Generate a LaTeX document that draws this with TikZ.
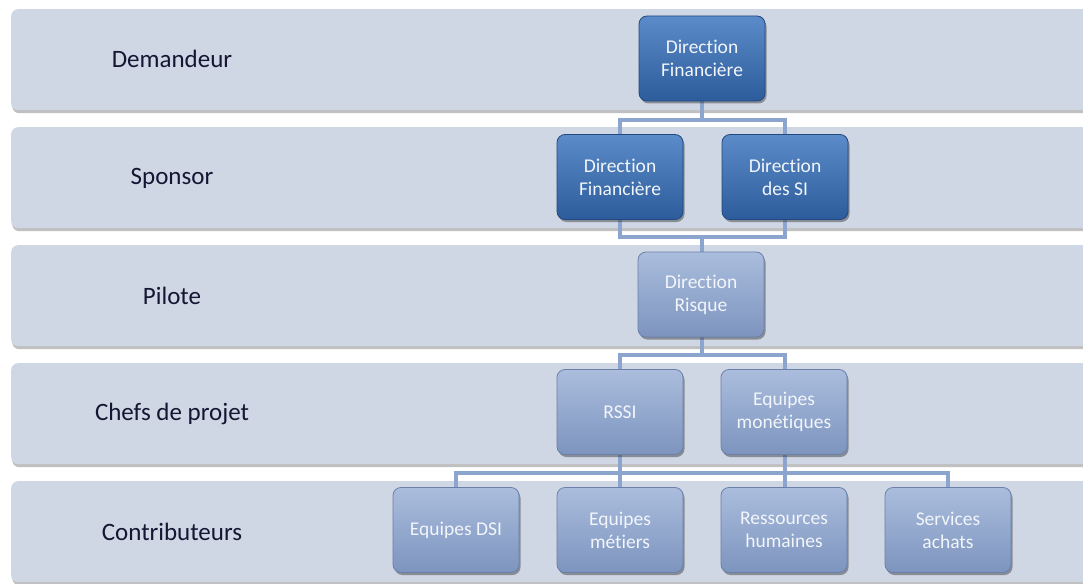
\documentclass[tikz,border=0pt]{standalone}
\usepackage{fontspec}
\setmainfont[Ligatures={NoCommon}]{Carlito}
\usetikzlibrary{shadows}
\definecolor{bandc}{HTML}{CFD6E4}
\definecolor{connc}{HTML}{8CA5CE}
\definecolor{darktop}{HTML}{5B8BC8}
\definecolor{darkbot}{HTML}{2C5C9B}
\definecolor{darkline}{HTML}{22497E}
\definecolor{lighttop}{HTML}{AABDDD}
\definecolor{lightbot}{HTML}{7D94BE}
\definecolor{lightline}{HTML}{6A80A8}
\definecolor{labc}{HTML}{141633}
\definecolor{boxtext}{HTML}{F2F5FA}
\begin{document}
\begin{tikzpicture}[x=1pt,y=-1pt,
  band/.style={fill=bandc, rounded corners=7pt, minimum width=1100pt, minimum height=101pt, anchor=north west,
    drop shadow={shadow xshift=1pt, shadow yshift=-3pt, opacity=0.35, fill=black!70}},
  lab/.style={text=labc, font=\fontsize{25}{30}\selectfont},
  box/.style={rounded corners=8pt, minimum width=126pt, minimum height=85pt, align=center,
    text=boxtext, line width=0.8pt, font=\fontsize{19.5}{23}\selectfont,
    drop shadow={shadow xshift=1.5pt, shadow yshift=-2.5pt, opacity=0.45, fill=black!80}},
  darkbox/.style={box, top color=darktop, bottom color=darkbot, draw=darkline},
  lightbox/.style={box, top color=lighttop, bottom color=lightbot, draw=lightline},
  conn/.style={draw=connc, line width=4pt}]
\useasboundingbox (0,0) rectangle (1083,583);
\fill[white] (0,0) rectangle (1083,583);
% bands
\node[band] (b1) at (11,9) {};
\node[band] (b2) at (11,127) {};
\node[band] (b3) at (11,245) {};
\node[band] (b4) at (11,363) {};
\node[band] (b5) at (11,481) {};
% labels
\node[lab] (l1) at (172,59) {Demandeur};
\node[lab] (l2) at (172,178) {Sponsor};
\node[lab] (l3) at (172,296) {Pilote};
\node[lab] (l4) at (172,414) {Chefs de projet};
\node[lab] (l5) at (172,532) {Contributeurs};
% connectors
\draw[conn] (702,101) -- (702,120) -| (620,135);
\draw[conn] (702,120) -| (785,135);
\draw[conn] (620,219) -- (620,237) -| (702,252);
\draw[conn] (785,219) -- (785,237) -| (702,252);
\draw[conn] (702,337) -- (702,355) -| (620,370);
\draw[conn] (702,355) -| (785,370);
\draw[conn] (456,488) -- (456,473) -| (948,488);
\draw[conn] (620,454) -- (620,488);
\draw[conn] (785,454) -- (785,488);
% boxes
\node[darkbox] (d1) at (702,58.5) {Direction\\Financière};
\node[darkbox] (s1) at (620,177) {Direction\\Financière};
\node[darkbox] (s2) at (785,177) {Direction\\des SI};
\node[lightbox] (p1) at (701,294.5) {Direction\\Risque};
\node[lightbox] (c1) at (620,412) {RSSI};
\node[lightbox] (c2) at (784,412) {Equipes\\monétiques};
\node[lightbox] (k1) at (456,530) {Equipes DSI};
\node[lightbox] (k2) at (620,530) {Equipes\\métiers};
\node[lightbox] (k3) at (784,530) {Ressources\\humaines};
\node[lightbox] (k4) at (948,530) {Services\\achats};
\end{tikzpicture}
\end{document}
